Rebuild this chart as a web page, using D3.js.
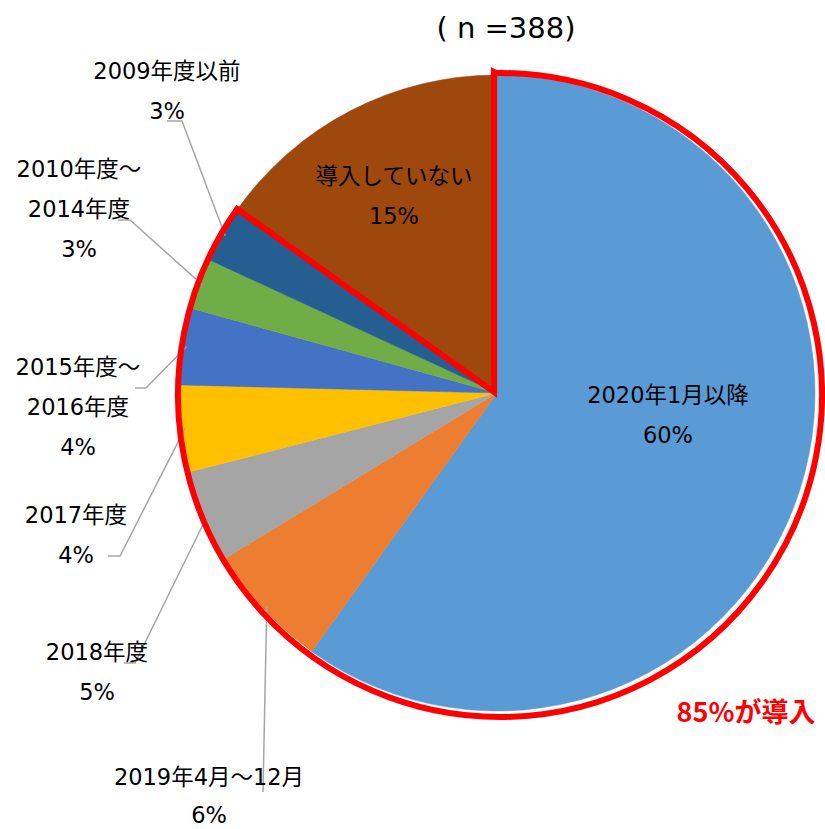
<!DOCTYPE html>
<html>
<head>
<meta charset="utf-8">
<script src="https://cdn.jsdelivr.net/npm/d3@7"></script>
<style>
  body { margin: 0; background: #fff; }
  text { font-family: "DejaVu Sans", "Noto Sans CJK JP", sans-serif; fill: #000; }
</style>
</head>
<body>
<div id="chart"></div>
<script>
// categories, clockwise from 12 o'clock
var categories = ["2020年1月以降", "2019年4月～12月", "2018年度", "2017年度",
  "2015年度～2016年度", "2010年度～2014年度", "2009年度以前", "導入していない"];
// label lines as printed on the chart
var labelLines = [["2020年1月以降"], ["2019年4月～12月"], ["2018年度"], ["2017年度"],
  ["2015年度～", "2016年度"], ["2010年度～", "2014年度"], ["2009年度以前"], ["導入していない"]];
// share in percent
var shares = [59.9, 6.4, 4.7, 4.4, 3.9, 2.6, 2.9, 15.2];
var colors = ["#5B9BD5", "#ED7D31", "#A5A5A5", "#FFC000", "#4472C4", "#70AD47", "#255E91", "#9E480E"];
var title = "( n =388)";
var note = "85%が導入";

var width = 825, height = 829;
var cx = 497, cy = 393, radius = 318;
var lineGap = 40;

// label layout: centre of first line, and leader tick (from x0 to x1 at y) for outside labels
var labelLayout = [
  { x: 668, y: 395, inside: true },
  { x: 209, y: 777, gap: 38, leader: [[263, 792], [263, 792]] },
  { x: 97, y: 652, leader: [[124, 663], [135, 663]] },
  { x: 76, y: 515, leader: [[108, 556], [120, 556]] },
  { x: 78, y: 367, leader: [[135, 388], [146, 388]] },
  { x: 79, y: 169, leader: [[118, 220], [130, 220]] },
  { x: 167, y: 71, leader: [[167, 121], [182, 121]] },
  { x: 394, y: 176, inside: true }
];

var svg = d3.select("#chart").append("svg")
  .attr("width", width)
  .attr("height", height);

var pie = d3.pie().sort(null).value(function(d) { return d; });
var arcs = pie(shares);

var arc = d3.arc().innerRadius(0).outerRadius(radius);

var g = svg.append("g").attr("transform", "translate(" + cx + "," + cy + ")");

g.selectAll("path.slice")
  .data(arcs)
  .enter().append("path")
  .attr("class", "slice")
  .attr("d", arc)
  .attr("fill", function(d, i) { return colors[i]; })
  .attr("stroke", function(d, i) { return colors[i]; })
  .attr("stroke-width", 0.5);

// leader lines
var edge = d3.arc().innerRadius(radius - 4).outerRadius(radius - 4);
arcs.forEach(function(d, i) {
  var lay = labelLayout[i];
  if (!lay.leader) return;
  var c = edge.centroid(d);
  var pts = [lay.leader[0], lay.leader[1], [c[0] + cx, c[1] + cy]];
  svg.append("path")
    .attr("d", d3.line()(pts))
    .attr("fill", "none")
    .attr("stroke", "#A6A6A6")
    .attr("stroke-width", 1.5);
});

// labels
arcs.forEach(function(d, i) {
  var lay = labelLayout[i];
  var gap = lay.gap || lineGap;
  var lines = labelLines[i].concat([Math.round(shares[i]) + "%"]);
  var t = svg.append("text")
    .attr("text-anchor", "middle")
    .attr("font-size", 22.5);
  lines.forEach(function(s, k) {
    t.append("tspan")
      .attr("x", lay.x)
      .attr("y", lay.y + k * gap)
      .attr("dy", "0.36em")
      .text(s);
  });
});

// red outline round the adopted slices
var adoptedEnd = arcs[6].endAngle;
var rc = { x: 500, y: 395, r: 322 };
var p = d3.path();
p.moveTo(494, 392);
p.lineTo(494, 72);
p.arc(rc.x, rc.y, rc.r, -Math.PI / 2 - 0.012, adoptedEnd - Math.PI / 2, false);
p.closePath();
svg.append("path")
  .attr("d", p.toString())
  .attr("fill", "none")
  .attr("stroke", "#FF0000")
  .attr("stroke-width", 6)
  .attr("stroke-linejoin", "miter");

svg.append("text")
  .attr("x", 506)
  .attr("y", 28)
  .attr("dy", "0.36em")
  .attr("text-anchor", "middle")
  .attr("font-size", 29)
  .text(title);

svg.append("text")
  .attr("x", 746)
  .attr("y", 712)
  .attr("dy", "0.36em")
  .attr("text-anchor", "middle")
  .attr("font-size", 27)
  .attr("font-weight", "bold")
  .style("fill", "#FF0000")
  .style("font-family", "'Noto Sans CJK JP', sans-serif")
  .text(note);
</script>
</body>
</html>
